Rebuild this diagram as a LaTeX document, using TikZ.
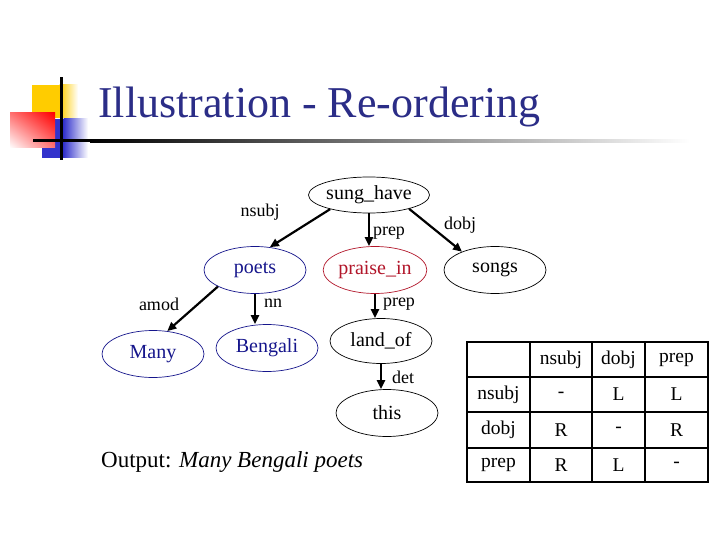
\documentclass[tikz,border=0pt]{standalone}
\usepackage{fontspec}
\setmainfont{Liberation Serif}
\usetikzlibrary{shapes.geometric,arrows.meta,shadings}
\definecolor{titleblue}{RGB}{43,45,135}
\definecolor{nodeblue}{RGB}{22,22,140}
\definecolor{nodered}{RGB}{178,22,42}
\definecolor{logoyellow}{RGB}{255,204,0}
\definecolor{logoblue}{RGB}{51,51,204}
\begin{document}
\begin{tikzpicture}[x=1pt,y=-1pt,
  nd/.style={ellipse,draw,line width=0.7pt,inner sep=0pt,minimum width=102pt,minimum height=47pt,font=\fontsize{20}{23}\selectfont},
  bl/.style={nd,draw=nodeblue,text=nodeblue},
  rd/.style={nd,draw=nodered,text=nodered},
  lbl/.style={font=\fontsize{18}{21}\selectfont,inner sep=0pt},
  edge/.style={line width=2.2pt,-{Triangle[length=9pt,width=8pt]}},
  cell/.style={font=\fontsize{19.5}{22}\selectfont,inner sep=0pt},
  grid/.style={line width=2pt}
]
\useasboundingbox (0,0) rectangle (720,540);
\fill[white] (0,0) rectangle (720,540);
% logo
\fill[logoyellow] (32,85) rectangle (60,118);
\shade[left color=logoyellow,right color=white] (59.5,85) rectangle (78,118);
\fill[logoblue] (42,119) rectangle (64,158);
\shade[left color=logoblue,right color=white] (63.5,119) rectangle (88,158);
\shade[upper left=red!55,upper right=red,lower left=white,lower right=red!55] (10,113) rectangle (55,148);
\fill[black] (59.5,77) rectangle (62.5,160);
\fill[black] (33,139.5) rectangle (90,142.5);
\shade[left color=black,middle color=gray!75,right color=white] (90,139.5) rectangle (690,142.5);
% title
\node[anchor=base west,text=titleblue,font=\fontsize{44}{50}\selectfont,inner sep=0pt] (title) at (98,118) {Illustration - Re-ordering};
% tree
\node[nd,minimum height=36pt] (sung) at (369,195) {sung\_have};
\node[bl] (poets) at (255,270) {poets};
\node[rd] (praise) at (375,270) {praise\_in};
\node[nd] (songs) at (495,270) {songs};
\node[bl] (many) at (153,354) {Many};
\node[bl] (bengali) at (267,348) {Bengali};
\node[nd,minimum height=45pt] (land) at (381,341) {land\_of};
\node[nd] (this) at (387,413) {this};
\draw[edge] (sung.200) -- (poets.57);
\draw[edge] (sung.south) -- (sung.south |- praise.north);
\draw[edge] (sung.341) -- (songs.151);
\draw[edge] (poets.204) -- (many.58);
\draw[edge] (poets.south) -- (poets.south |- bengali.north);
\draw[edge] (praise.south) -- (praise.south |- land.north);
\draw[edge] (land.south) -- (land.south |- this.north);
\node[lbl] (l1) at (260,212) {nsubj};
\node[lbl] (l2) at (389,233) {prep};
\node[lbl] (l3) at (460,225) {dobj};
\node[lbl] (l4) at (159,304) {amod};
\node[lbl] (l5) at (273,303) {nn};
\node[lbl] (l6) at (399,304) {prep};
\node[lbl] (l7) at (403,377) {det};
% output
\node[anchor=base west,font=\fontsize{23}{27}\selectfont,inner sep=0pt] (out) at (101,467) {Output: \textit{Many Bengali poets}};
% table
\draw[grid] (467,342) rectangle (708,482);
\draw[grid] (530,342) -- (530,482);
\draw[grid] (592,342) -- (592,482);
\draw[grid] (645,342) -- (645,482);
\draw[grid] (467,377) -- (708,377);
\draw[grid] (467,412) -- (708,412);
\draw[grid] (467,448) -- (708,448);
\node[cell] (h1) at (561,359.5) {nsubj};
\node[cell] (h2) at (618.5,359.5) {dobj};
\node[cell] (h3) at (676.5,359.5) {prep};
\node[cell] (r1) at (498.5,394.5) {nsubj};
\node[cell] (r2) at (498.5,430) {dobj};
\node[cell] (r3) at (498.5,465) {prep};
\node[cell] (c11) at (561,394.5) {-};
\node[cell] (c12) at (618.5,394.5) {L};
\node[cell] (c13) at (676.5,394.5) {L};
\node[cell] (c21) at (561,430) {R};
\node[cell] (c22) at (618.5,430) {-};
\node[cell] (c23) at (676.5,430) {R};
\node[cell] (c31) at (561,465) {R};
\node[cell] (c32) at (618.5,465) {L};
\node[cell] (c33) at (676.5,465) {-};
\end{tikzpicture}
\end{document}
